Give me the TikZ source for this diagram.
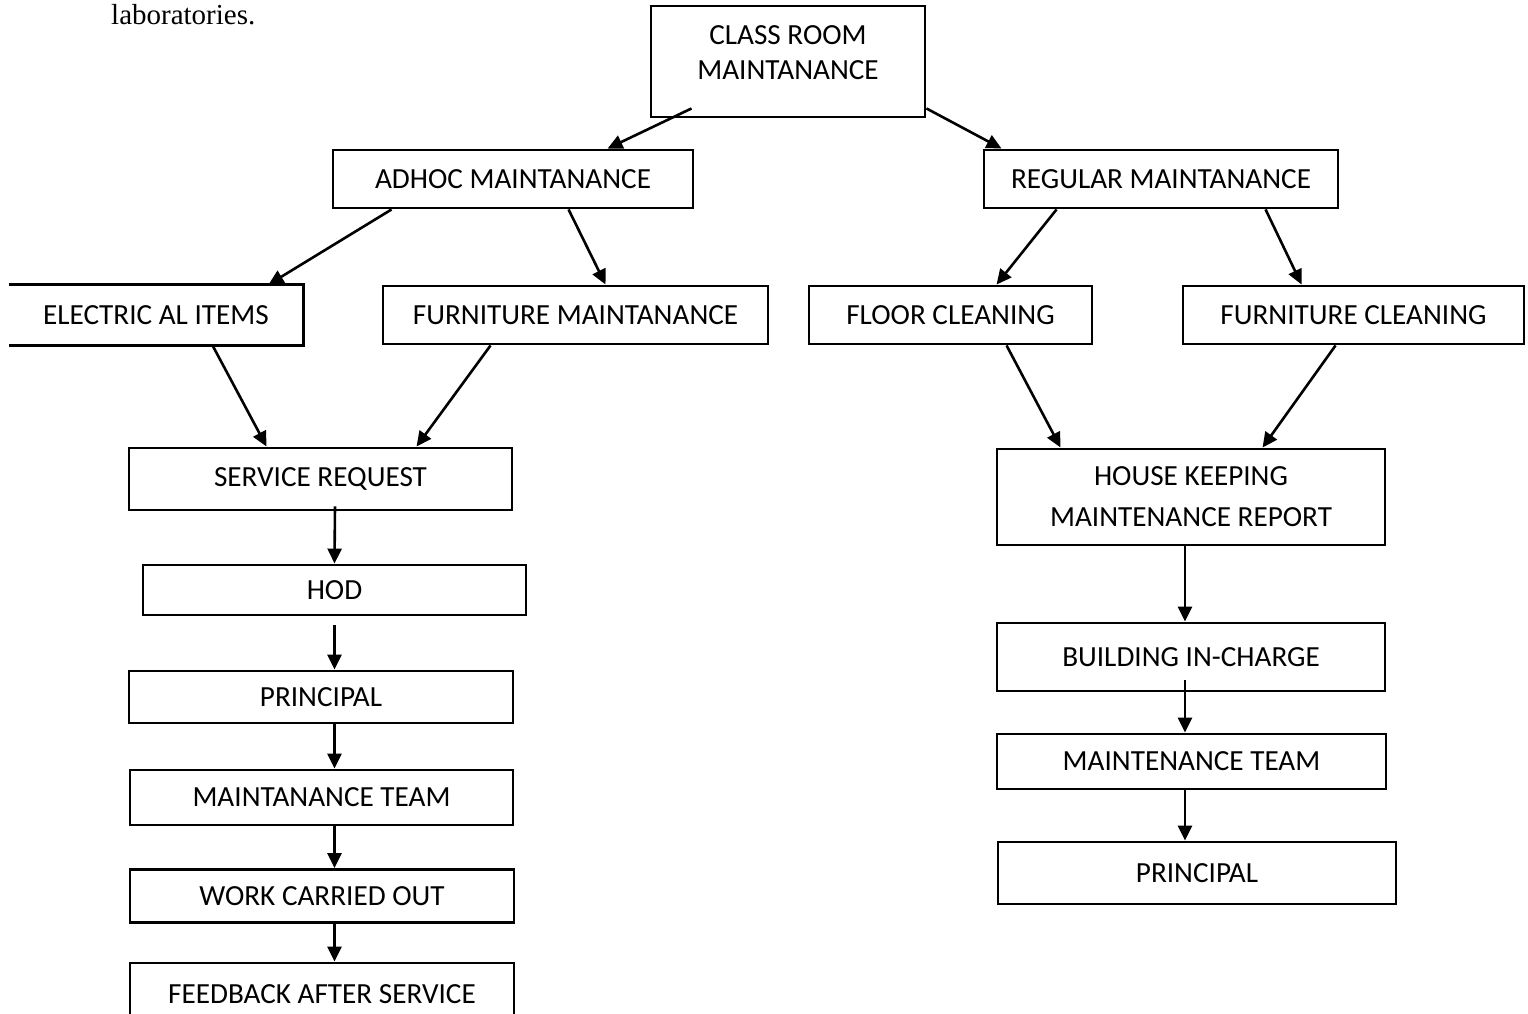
\documentclass[tikz,border=0pt]{standalone}
\usepackage{fontspec}
\setmainfont{Carlito}
\newfontfamily\serifrm{Liberation Serif}
\usetikzlibrary{arrows.meta,calc}
\begin{document}
\begin{tikzpicture}[x=1pt,y=-1pt,
  box/.style={draw,line width=2.9pt,inner sep=0pt,align=center,font=\fontsize{29.2}{35}\selectfont},
  txt/.style={inner sep=0pt,align=center,font=\fontsize{29.2}{35}\selectfont},
  arr/.style={line width=2.6pt,-{Triangle[length=15pt,width=14pt]}}]
\useasboundingbox (0,0) rectangle (1528,1014);
\clip (0,0) rectangle (1528,1014);
\fill[white] (0,0) rectangle (1528,1014);

\node[anchor=base west,inner sep=0pt,font=\serifrm\fontsize{29}{34}\selectfont] (lab) at (111,25) {laboratories.};

\node[box,minimum width=274pt,minimum height=111pt] (cls) at (788,61.5) {};
\node[txt] (clstxt) at (788,53) {CLASS ROOM\\MAINTANANCE};
\node[box,minimum width=360pt,minimum height=58pt] (adhoc) at (513,179) {ADHOC MAINTANANCE};
\node[box,minimum width=354pt,minimum height=58pt] (reg) at (1161,179) {REGULAR MAINTANANCE};

\node[box,draw=none,minimum width=292pt,minimum height=58pt] (elec) at (156,315) {ELECTRIC AL ITEMS};
\draw[line width=2.9pt] (elec.north west) -- (elec.north east) -- (elec.south east) -- (elec.south west);
\node[box,minimum width=385pt,minimum height=58pt] (furn) at (575.5,315) {FURNITURE MAINTANANCE};
\node[box,minimum width=283pt,minimum height=58pt] (floor) at (950.5,315) {FLOOR CLEANING};
\node[box,minimum width=341pt,minimum height=58pt] (fc) at (1353.5,315) {FURNITURE CLEANING};

\node[box,minimum width=383pt,minimum height=62pt] (sr) at (320.5,479) {SERVICE REQUEST};
\node[box,minimum width=383pt,minimum height=50pt] (hod) at (334.5,590) {HOD};
\node[box,minimum width=384pt,minimum height=52pt] (prl) at (321,697) {PRINCIPAL};
\node[box,minimum width=383pt,minimum height=55pt] (mtl) at (321.5,797.5) {MAINTANANCE TEAM};
\node[box,minimum width=384pt,minimum height=53pt] (work) at (322,896) {WORK CARRIED OUT};
\node[box,minimum width=384pt,minimum height=62pt] (fb) at (322,994) {FEEDBACK AFTER SERVICE};

\node[box,minimum width=388pt,minimum height=96pt,font=\fontsize{29.2}{41}\selectfont] (hk) at (1191,497) {HOUSE KEEPING\\MAINTENANCE REPORT};
\node[box,minimum width=388pt,minimum height=68pt] (bld) at (1191,657) {BUILDING IN-CHARGE};
\node[box,minimum width=389pt,minimum height=55pt] (mtr) at (1191.5,761.5) {MAINTENANCE TEAM};
\node[box,minimum width=398pt,minimum height=62pt] (prr) at (1197,873) {PRINCIPAL};

% top level
\draw[arr] ([xshift=42pt,yshift=10pt]cls.south west) -- ([xshift=276pt]adhoc.north west);
\draw[arr] ([yshift=10pt]cls.south east) -- ([xshift=19pt]reg.north west);
% second level
\draw[arr] ([xshift=60pt]adhoc.south west) -- ([xshift=260pt]elec.north west);
\draw[arr] ([xshift=237pt]adhoc.south west) -- ([xshift=224pt]furn.north west);
\draw[arr] ([xshift=74pt]reg.south west) -- ([xshift=189pt]floor.north west);
\draw[arr] ([xshift=283pt]reg.south west) -- ([xshift=120pt]fc.north west);
% third level
\draw[arr] ([xshift=204pt]elec.south west) -- ([xshift=139pt]sr.north west);
\draw[arr] ([xshift=109pt]furn.south west) -- ([xshift=289pt]sr.north west);
\draw[arr] ([xshift=199pt]floor.south west) -- ([xshift=65pt]hk.north west);
\draw[arr] ([xshift=154pt]fc.south west) -- ([xshift=267pt]hk.north west);
% left chain
\draw[arr] ([xshift=14.5pt,yshift=5pt]sr.south) -- (hod.north);
\draw[arr] ([yshift=-9pt]hod.south) -- (hod.south |- prl.north);
\draw[arr] (prl.south -| hod.south) -- (hod.south |- mtl.north);
\draw[arr] (mtl.south -| hod.south) -- (hod.south |- work.north);
\draw[arr] (work.south -| hod.south) -- (hod.south |- fb.north);
% right chain
\draw[arr] ([xshift=-6pt]hk.south) -- ([xshift=-6pt]hk.south |- bld.north);
\draw[arr] ([xshift=-6pt,yshift=12pt]bld.south) -- ([xshift=-6pt]bld.south |- mtr.north);
\draw[arr] ([xshift=-6pt]bld.south |- mtr.south) -- ([xshift=-6pt]bld.south |- prr.north);
\end{tikzpicture}
\end{document}
